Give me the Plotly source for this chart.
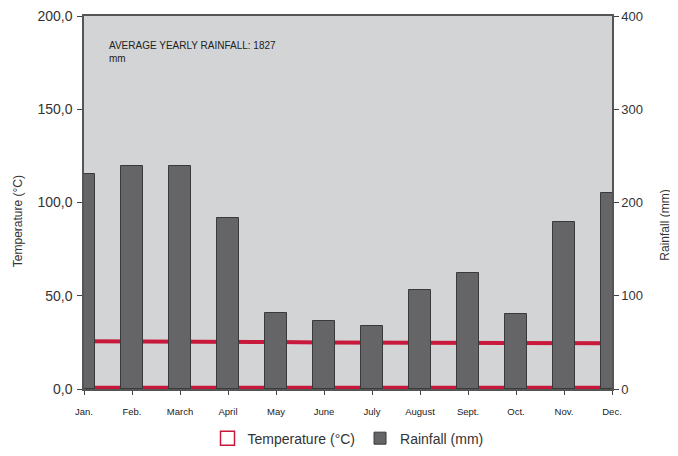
"""Climate chart: monthly rainfall bars with temperature lines."""

import plotly.graph_objects as go
from plotly.subplots import make_subplots

months = ['Jan.', 'Feb.', 'March', 'April', 'May', 'June',
          'July', 'August', 'Sept.', 'Oct.', 'Nov.', 'Dec.']
rainfall_mm = [231, 239, 239, 183, 81, 73, 68, 106, 124, 80, 179, 210]
temp_upper = [25.6, 25.6, 25.5, 25.4, 25.2, 25.0, 24.9, 24.9, 24.8, 24.7, 24.6, 24.5]
temp_lower = [0.7, 0.7, 0.7, 0.7, 0.7, 0.7, 0.7, 0.7, 0.7, 0.7, 0.7, 0.7]

FONT = "Liberation Sans Narrow, Arial Narrow, Liberation Sans, sans-serif"
RED = '#c8193c'
BAR = '#656568'

fig = make_subplots(specs=[[{"secondary_y": True}]])

# legend-only entry so the temperature key is an open square like the original
fig.add_trace(go.Scatter(x=[None], y=[None], mode='markers', name='Temperature (°C)',
                         marker=dict(symbol='square-open', size=14, color=RED,
                                     line=dict(width=1.5, color=RED))),
              secondary_y=False)

for series in (temp_upper, temp_lower):
    fig.add_trace(go.Scatter(x=months, y=series, mode='lines', showlegend=False,
                             line=dict(color=RED, width=4)),
                  secondary_y=False)

fig.add_trace(go.Bar(x=months, y=rainfall_mm, name='Rainfall (mm)', width=0.44,
                     marker=dict(color=BAR, line=dict(color='#3a3a3c', width=1))),
              secondary_y=True)

fig.update_xaxes(type='category', categoryorder='array', categoryarray=months,
                 range=[0, 11], domain=[0, 1], showline=True, linecolor='#555',
                 linewidth=1.5, mirror=True, ticks='outside', ticklen=4,
                 tickcolor='#444', tickfont=dict(size=9.5, color='#222'),
                 ticklabelstandoff=9, showgrid=False, automargin=False)
fig.update_yaxes(range=[0, 200], dtick=50, domain=[0, 1], tickformat='.1f',
                 showline=True, linecolor='#555', linewidth=1.5, ticks='outside',
                 ticklen=5, tickcolor='#444', showgrid=False, zeroline=False,
                 tickfont=dict(size=14, color='#333'), ticklabelstandoff=2,
                 ticklabeloverflow='allow', automargin=False, secondary_y=False)
fig.update_yaxes(range=[0, 400], dtick=100, showline=True, linecolor='#555',
                 linewidth=1.5, ticks='outside', ticklen=5, tickcolor='#444',
                 showgrid=False, zeroline=False, tickfont=dict(size=13, color='#333'),
                 ticklabeloverflow='allow', automargin=False, secondary_y=True)

# axis titles as annotations so they sit where the original puts them
fig.add_annotation(text="Temperature (°C)", xref='paper', yref='paper', x=-0.142, y=0.45,
                   textangle=-90, showarrow=False, font=dict(size=12, color='#333'))
fig.add_annotation(text="Rainfall (mm)", xref='paper', yref='paper', x=1.117, y=0.44,
                   textangle=-90, showarrow=False, font=dict(size=12, color='#333'))

fig.add_annotation(text="AVERAGE YEARLY RAINFALL: 1827<br>mm", xref='paper', yref='paper',
                   x=0.043, y=0.94, xanchor='left', yanchor='top', align='left',
                   showarrow=False, font=dict(size=10, color='#222'))

# page body adds ~8px offset; plot area is sized to land where the original's does
fig.update_layout(
    width=678, height=448,
    font=dict(family=FONT, color='#333'),
    separators=', ',
    plot_bgcolor='#d3d4d6',
    paper_bgcolor='white',
    bargap=0,
    margin=dict(l=76, r=74, t=8, b=67, autoexpand=False),
    legend=dict(orientation='h', x=0.5, xanchor='center', y=-0.09, yanchor='top',
                font=dict(size=14, color='#333'), bgcolor='rgba(0,0,0,0)'),
    showlegend=True,
)

fig.write_html("out.html")
